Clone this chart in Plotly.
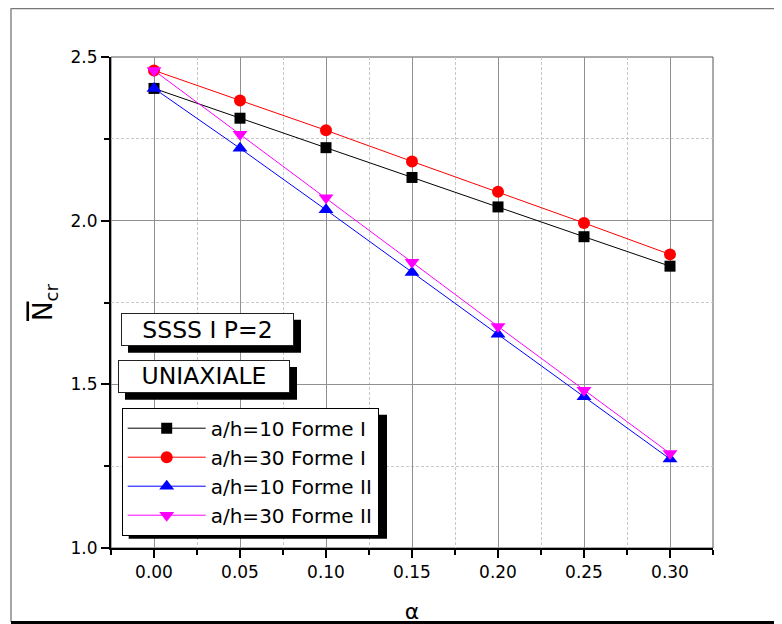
import plotly.graph_objects as go

alpha = [0.00, 0.05, 0.10, 0.15, 0.20, 0.25, 0.30]
ah10_forme1 = [2.404, 2.313, 2.223, 2.132, 2.042, 1.951, 1.861]
ah30_forme1 = [2.459, 2.367, 2.276, 2.181, 2.088, 1.993, 1.897]
ah10_forme2 = [2.404, 2.221, 2.033, 1.842, 1.653, 1.462, 1.272]
ah30_forme2 = [2.459, 2.264, 2.070, 1.873, 1.677, 1.482, 1.289]
series_names = ["a/h=10 Forme I", "a/h=30 Forme I", "a/h=10 Forme II", "a/h=30 Forme II"]
x_ticks = [0.00, 0.05, 0.10, 0.15, 0.20, 0.25, 0.30]
x_tick_labels = ["0.00", "0.05", "0.10", "0.15", "0.20", "0.25", "0.30"]
y_ticks = [1.0, 1.5, 2.0, 2.5]
y_tick_labels = ["1.0", "1.5", "2.0", "2.5"]

OFF = 8  # page body margin
W, H = 782 - OFF, 624 - OFF
L, T = 111 - OFF, 57 - OFF
R = W - (713 - OFF)
B = H - (548 - OFF)
PW, PH = W - L - R, H - T - B
FONT = "DejaVu Sans, Arial, sans-serif"


def px(x):  # screen x -> paper
    return (x - OFF - L) / PW


def py(y):  # screen y -> paper
    return (H - B - (y - OFF)) / PH


styles = [
    dict(color="#000000", symbol="square", size=11),
    dict(color="#FF0000", symbol="circle", size=12),
    dict(color="#0000FF", symbol="triangle-up", size=13),
    dict(color="#FF00FF", symbol="triangle-down", size=13),
]

fig = go.Figure()
for i, (name, vals) in enumerate(zip(series_names, [ah10_forme1, ah30_forme1, ah10_forme2, ah30_forme2])):
    st = styles[i]
    fig.add_trace(go.Scatter(
        x=alpha, y=vals, name=name, mode="lines+markers",
        line=dict(color=st["color"], width=1),
        marker=dict(color=st["color"], symbol=st["symbol"], size=st["size"], line=dict(width=0)),
    ))

shapes = []
# figure frame
shapes.append(dict(type="line", xref="paper", yref="paper", x0=px(11), x1=px(790), y0=py(8.5), y1=py(8.5),
                   line=dict(color="#777777", width=1.5)))
shapes.append(dict(type="line", xref="paper", yref="paper", x0=px(11), x1=px(11), y0=py(8), y1=py(622),
                   line=dict(color="#888888", width=1.5)))
shapes.append(dict(type="line", xref="paper", yref="paper", x0=px(11), x1=px(790), y0=py(622.5), y1=py(622.5),
                   line=dict(color="#000000", width=3)))
# plot box (top / right)
shapes.append(dict(type="rect", xref="paper", yref="paper", x0=0, x1=1, y0=0, y1=1, layer="between",
                   line=dict(color="#555555", width=1)))

# boxes with shadows
boxes = [
    ("SSSS I P=2", 121, 312.7, 294, 345.7),
    ("UNIAXIALE", 118, 360, 290, 392.7),
]
annotations = []
for text, x0, y0, x1, y1 in boxes:
    shapes.append(dict(type="rect", xref="paper", yref="paper", x0=px(x0 + 7), x1=px(x1 + 7),
                       y0=py(y0 + 7), y1=py(y1 + 7), fillcolor="black", line=dict(width=0), layer="above"))
    annotations.append(dict(text=text, xref="paper", yref="paper", x=px((x0 + x1) / 2), y=py((y0 + y1) / 2),
                            xanchor="center", yanchor="middle", showarrow=False,
                            width=x1 - x0 - 2, height=y1 - y0 - 2, borderwidth=1, borderpad=0,
                            bordercolor="#222222", bgcolor="white",
                            font=dict(family=FONT, size=23.5, color="black")))
# legend shadow
shapes.append(dict(type="rect", xref="paper", yref="paper", x0=px(121.7 + 7), x1=px(380 + 7),
                   y0=py(407.7 + 7), y1=py(531.7 + 7), fillcolor="black", line=dict(width=0), layer="above"))

fig.update_layout(
    width=W, height=H,
    margin=dict(l=L, r=R, t=T, b=B, pad=0, autoexpand=False),
    paper_bgcolor="white", plot_bgcolor="white",
    font=dict(family=FONT, size=17, color="black"),
    showlegend=True,
    legend=dict(x=px(121.7), y=py(407.7), xanchor="left", yanchor="top",
                bgcolor="white", bordercolor="black", borderwidth=1,
                font=dict(family=FONT, size=20, color="black"),
                itemwidth=78),
    shapes=shapes,
    annotations=annotations,
    xaxis=dict(
        range=[-0.025, 0.325], tickmode="array", tickvals=x_ticks, ticktext=x_tick_labels,
        showline=True, linecolor="black", linewidth=2, mirror=False, automargin=False,
        ticks="outside", ticklen=8, tickwidth=2, tickcolor="black",
        showgrid=True, gridcolor="#909090", gridwidth=1, zeroline=False,
        minor=dict(dtick=0.025, tick0=0.0, ticks="outside", ticklen=5, tickwidth=1.5, tickcolor="black",
                   showgrid=True, gridcolor="#c8c8c8", griddash="3px,2px", gridwidth=1),
        tickfont=dict(family=FONT, size=17),
        title=dict(text="α", font=dict(family=FONT, size=22), standoff=31),
    ),
    yaxis=dict(
        range=[1.0, 2.5], tickmode="array", tickvals=y_ticks, ticktext=y_tick_labels,
        showline=True, linecolor="black", linewidth=2, mirror=False, automargin=False,
        ticks="outside", ticklen=8, tickwidth=2, tickcolor="black",
        showgrid=True, gridcolor="#909090", gridwidth=1, zeroline=False,
        minor=dict(dtick=0.25, tick0=1.0, ticks="outside", ticklen=5, tickwidth=1.5, tickcolor="black",
                   showgrid=True, gridcolor="#c8c8c8", griddash="3px,2px", gridwidth=1),
        tickfont=dict(family=FONT, size=17),
        title=dict(text="<span style='text-decoration:overline'>N</span><sub>cr</sub>",
                   font=dict(family=FONT, size=26), standoff=10),
    ),
)

fig.write_html("out.html")
